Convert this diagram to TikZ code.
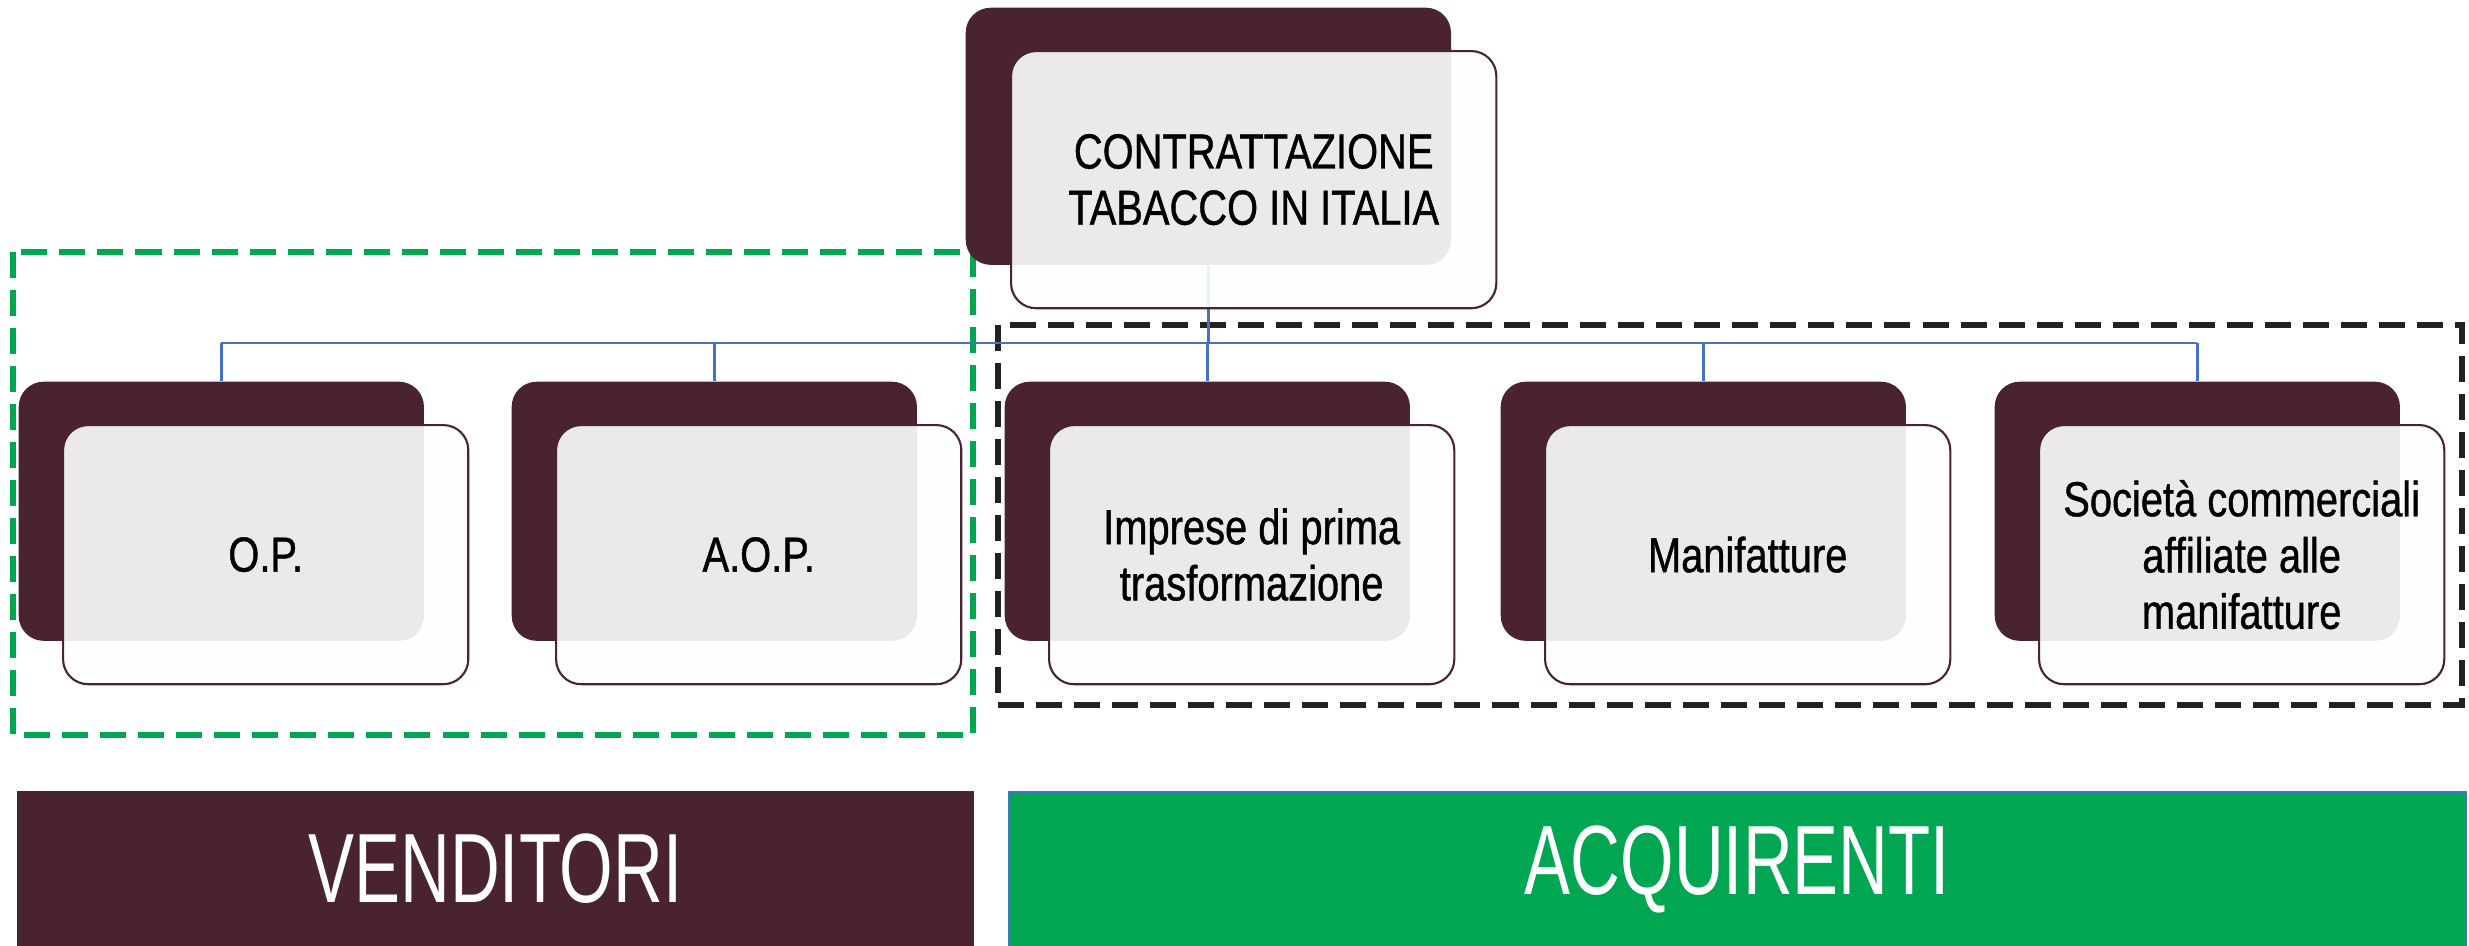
\documentclass[tikz,border=0pt]{standalone}
\usepackage{fontspec}
\setmainfont[FakeStretch=0.81,FakeBold=0.8]{Liberation Sans}
\newfontfamily\barfont[FakeStretch=0.7]{Liberation Sans}
\usepackage{tikz}
\definecolor{maroon}{RGB}{74,35,48}
\definecolor{leafgreen}{RGB}{0,166,81}
\definecolor{linkblue}{RGB}{68,114,196}
\definecolor{framegray}{RGB}{34,34,34}
\definecolor{veil}{RGB}{253,255,255}
\tikzset{>=latex}
\tikzset{
  darkbox/.style={fill=maroon,rounded corners=0.25cm,anchor=north west,inner sep=0pt,
    minimum width=4.05cm,minimum height=2.59cm},
  lightbox/.style={fill=veil,fill opacity=0.9,text opacity=1,draw=maroon,line width=0.6pt,
    rounded corners=0.25cm,anchor=north west,inner sep=0pt,align=center,
    minimum width=4.05cm,minimum height=2.59cm,font=\fontsize{14}{16}\selectfont},
  link/.style={draw=linkblue,line width=0.8pt},
  frame/.style={line width=0.06cm,dash pattern=on 0.26cm off 0.12cm},
  bar/.style={anchor=north west,inner sep=0pt,minimum height=1.55cm,text=white,
    font=\barfont\fontsize{28}{30}\selectfont}
}

\begin{document}
\begin{tikzpicture}[x=0.01cm,y=-0.01cm]
       \useasboundingbox (0,0) rectangle (2469,945);
       % groups
       \draw[frame,leafgreen] (13,252) rectangle (973,735);
       \draw[frame,framegray] (998,325) rectangle (2462,705);
       % back plates
       \node[darkbox,minimum width=4.85cm,minimum height=2.57cm] (top-back) at (965,7) {};
       \node[darkbox] (op-back) at (18,381) {};
       \node[darkbox] (aop-back) at (511,381) {};
       \node[darkbox] (imp-back) at (1004,381) {};
       \node[darkbox] (man-back) at (1500,381) {};
       \node[darkbox] (soc-back) at (1994,381) {};
       % tree
       \coordinate (bus) at (0,343);
       \draw[link] (top-back.south) -- (top-back.south |- bus);
       \draw[link] (op-back.north |- bus) -- (soc-back.north |- bus);
       \foreach \n in {op,aop,imp,man,soc}
         \draw[link] (\n-back.north |- bus) -- (\n-back.north);
       % front plates
       \node[lightbox,minimum width=4.85cm,minimum height=2.57cm] (top) at (1010,50)
         {CONTRATTAZIONE\\TABACCO IN ITALIA};
       \node[lightbox] (op) at (62,424) {O.P.};
       \node[lightbox] (aop) at (555,424) {A.O.P.};
       \node[lightbox] (imp) at (1048,424) {Imprese di prima\\trasformazione};
       \node[lightbox] (man) at (1544,424) {Manifatture};
       \node[lightbox] (soc) at (2038,424)
         {Società commerciali\\affiliate alle\\manifatture};
       % bottom labels
       \node[bar,fill=maroon,minimum width=9.57cm] (sellers) at (16,790) {VENDITORI};
       \node[bar,fill=leafgreen,draw=linkblue,line width=0.5pt,minimum width=14.56cm] (buyers) at (1008,791) {ACQUIRENTI};
      \end{tikzpicture}
\end{document}
